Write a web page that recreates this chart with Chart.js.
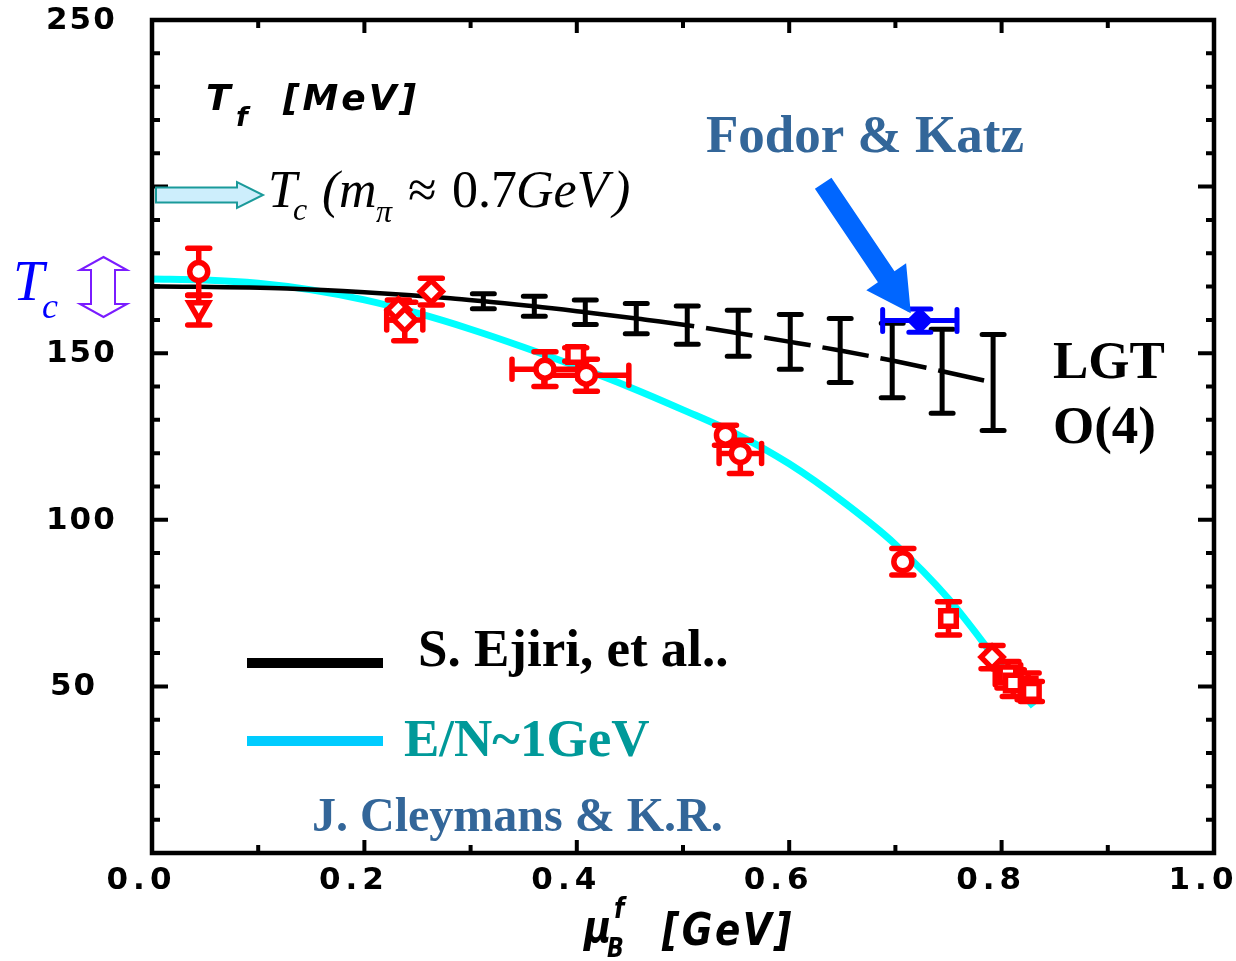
<!DOCTYPE html>
<html><head><meta charset="utf-8">
<script src="https://cdn.jsdelivr.net/npm/chart.js@4.4.1/dist/chart.umd.min.js"></script>
<style>html,body{margin:0;padding:0;background:#fff;overflow:hidden}#wrap{width:1236px;height:961px}</style>
</head><body><div id="wrap"><canvas id="c" width="1236" height="961"></canvas></div>
<script>
// ---------- data ----------
const xTickValues = [0, 0.2, 0.4, 0.6, 0.8, 1.0];
const xTickLabels = ['0.0', '0.2', '0.4', '0.6', '0.8', '1.0'];
const yTickValues = [50, 100, 150, 250];
const yTickLabels = ['50', '100', '150', '250'];

// Cleymans-Redlich E/N ~ 1 GeV freeze-out curve
const cleymansMu = [0, 0.05, 0.1, 0.15, 0.2, 0.25, 0.3, 0.35, 0.4, 0.45, 0.5, 0.55, 0.6, 0.65, 0.7, 0.75, 0.8, 0.83];
const cleymansT  = [172.3, 172.0, 171.0, 169.0, 166.0, 162.0, 157.2, 151.8, 146.0, 139.8, 133.0, 125.8, 116.8, 105.6, 92.6, 76.3, 56.0, 44.0];

// LGT (S. Ejiri et al.) curve start and points with error bars
const lgtCurveMu = [0, 0.127, 0.2, 0.281];
const lgtCurveT  = [170.1, 169.4, 168.3, 166.5];
const lgtMu  = [0.312, 0.360, 0.408, 0.456, 0.504, 0.552, 0.601, 0.648, 0.697, 0.744, 0.792];
const lgtT   = [165.6, 164.1, 162.3, 160.4, 158.4, 156.0, 153.4, 150.8, 147.8, 144.6, 141.2];
const lgtErr = [2.25, 3.0, 3.65, 4.55, 5.75, 6.9, 8.25, 9.6, 11.2, 12.6, 14.4];

// freeze-out data points
const redMu    = [0.044, 0.044, 0.232, 0.238, 0.263, 0.370, 0.399, 0.409, 0.540, 0.554, 0.707, 0.750, 0.791, 0.806, 0.811, 0.825, 0.828];
const redT     = [174.5, 163.5, 163.0, 160.0, 168.5, 145.2, 149.6, 143.4, 125.4, 119.9, 87.4, 70.4, 58.8, 53.5, 51.0, 50.0, 48.5];
const redTLo   = [7, 5, 3, 6.3, 4, 5.2, 2, 4.8, 3, 6, 4, 5, 3.5, 4, 4, 4, 3];
const redTHi   = [7, 3.8, 3, 5.3, 4, 5.2, 2, 4.8, 3, 4, 4, 5, 3.5, 4, 4, 4, 3];
const redMuErr = [0, 0, 0, 0.017, 0, 0.031, 0, 0.04, 0, 0.02, 0, 0, 0, 0.012, 0, 0, 0];
const redShape = ['circle', 'triangleDown', 'diamond', 'diamond', 'diamond', 'circle', 'square', 'circle', 'circle', 'circle', 'circle', 'square', 'diamond', 'square', 'square', 'square', 'square'];

// Fodor & Katz critical point
const fodorMu = [0.723];
const fodorT = [159.8];
const fodorMuErr = [0.035];
const fodorTErr = [3.5];

// ---------- helpers ----------
const pts = (xs, ys) => xs.map((v, i) => ({x: v, y: ys[i]}));
const styleMap = {circle: 'circle', triangleDown: 'triangle', diamond: 'rectRot', square: 'rect'};
const radiusMap = {circle: 9, triangleDown: 11, diamond: 11, square: 11};

const SERIF = '"Liberation Serif", "Times New Roman", serif';
const SANS = '"DejaVu Sans", Verdana, sans-serif';

function txt(ctx, s, x, y, font, color, ls, align, sx) {
  ctx.save();
  ctx.font = font; ctx.fillStyle = color || '#000';
  ctx.textBaseline = 'alphabetic';
  if ('letterSpacing' in ctx) ctx.letterSpacing = (ls || 0) + 'px';
  const k = sx || 1;
  let w = (ctx.measureText(s).width - (ls || 0)) * k;
  let xx = x;
  if (align === 'center') xx = x - w / 2;
  ctx.textAlign = 'left';
  ctx.translate(xx, y); ctx.scale(k, 1);
  ctx.fillText(s, 0, 0);
  ctx.restore();
}

const bgPlugin = {
  id: 'bg',
  beforeDraw(chart) {
    const ctx = chart.ctx; ctx.save(); ctx.fillStyle = '#fff';
    ctx.fillRect(0, 0, chart.width, chart.height); ctx.restore();
  }
};

const errorBarPlugin = {
  id: 'errbars',
  beforeDatasetDraw(chart, args) {
    const ds = chart.data.datasets[args.index];
    const eb = ds.errorBars; if (!eb) return;
    const ctx = chart.ctx, xs = chart.scales.x, ys = chart.scales.y;
    ctx.save();
    ctx.strokeStyle = eb.color; ctx.lineWidth = eb.width; ctx.lineCap = 'round';
    ds.data.forEach((p, i) => {
      const px = xs.getPixelForValue(p.x), py = ys.getPixelForValue(p.y);
      const lo = eb.yLo[i] || 0, hi = eb.yHi[i] || 0;
      if (lo || hi) {
        const y1 = ys.getPixelForValue(p.y + hi), y2 = ys.getPixelForValue(p.y - lo);
        ctx.beginPath();
        ctx.moveTo(px, y1); ctx.lineTo(px, y2);
        ctx.moveTo(px - eb.cap / 2, y1); ctx.lineTo(px + eb.cap / 2, y1);
        ctx.moveTo(px - eb.cap / 2, y2); ctx.lineTo(px + eb.cap / 2, y2);
        ctx.stroke();
      }
      const xe = eb.xErr ? eb.xErr[i] : 0;
      if (xe) {
        const x1 = xs.getPixelForValue(p.x - xe), x2 = xs.getPixelForValue(p.x + xe);
        const c = eb.capX || eb.cap;
        ctx.beginPath();
        ctx.moveTo(x1, py); ctx.lineTo(x2, py);
        ctx.moveTo(x1, py - c / 2); ctx.lineTo(x1, py + c / 2);
        ctx.moveTo(x2, py - c / 2); ctx.lineTo(x2, py + c / 2);
        ctx.stroke();
      }
    });
    ctx.restore();
  }
};

const decorPlugin = {
  id: 'decor',
  afterDraw(chart) {
    const ctx = chart.ctx, a = chart.chartArea, xs = chart.scales.x, ys = chart.scales.y;
    ctx.save();
    // frame
    ctx.strokeStyle = '#000'; ctx.lineWidth = 4.5; ctx.lineCap = 'butt';
    ctx.strokeRect(a.left, a.top, a.right - a.left, a.bottom - a.top);
    // inward ticks
    ctx.lineWidth = 4;
    for (let v = 10; v < 250; v += 10) {
      const py = ys.getPixelForValue(v);
      const L = (v % 50 === 0) ? 16 : 8;
      ctx.beginPath();
      ctx.moveTo(a.left, py); ctx.lineTo(a.left + L, py);
      ctx.moveTo(a.right, py); ctx.lineTo(a.right - L, py);
      ctx.stroke();
    }
    for (let k = 1; k < 10; k++) {
      const px = xs.getPixelForValue(k / 10);
      const L = (k % 2 === 0) ? 13 : 8;
      ctx.beginPath();
      ctx.moveTo(px, a.bottom); ctx.lineTo(px, a.bottom - L);
      ctx.moveTo(px, a.top); ctx.lineTo(px, a.top + L);
      ctx.stroke();
    }
    // tick labels
    xTickValues.forEach((v, i) => {
      txt(ctx, xTickLabels[i], xs.getPixelForValue(v) - 13, 889, 'bold 31px ' + SANS, '#000', 5, 'center');
    });
    yTickValues.forEach((v, i) => {
      ctx.save(); ctx.font = 'bold 31px ' + SANS; ctx.fillStyle = '#000';
      if ('letterSpacing' in ctx) ctx.letterSpacing = '2px';
      ctx.textBaseline = 'middle'; ctx.textAlign = 'left';
      ctx.fillText(yTickLabels[i], yTickLabels[i].length === 2 ? 50 : 46, ys.getPixelForValue(v) + 1);
      ctx.restore();
    });
    // axis titles
    txt(ctx, 'T', 206, 110, 'italic bold 36px ' + SANS, '#000', 0);
    txt(ctx, 'f', 236, 126, 'italic bold 27px ' + SANS, '#000', 0);
    txt(ctx, '[MeV]', 283, 110, 'italic bold 36px ' + SANS, '#000', 3);
    txt(ctx, 'μ', 584, 942, 'italic bold 44px ' + SANS, '#000', 0, null, 0.85);
    txt(ctx, 'f', 614, 918, 'italic bold 28px ' + SANS, '#000', 0, null, 0.85);
    txt(ctx, 'B', 607, 957, 'italic bold 26px ' + SANS, '#000', 0, null, 0.85);
    txt(ctx, '[GeV]', 662, 945, 'italic bold 44px ' + SANS, '#000', 3, null, 0.85);

    // left "T_c" and violet double arrow
    txt(ctx, 'T', 13, 300, 'italic 56px ' + SERIF, '#0000ff', 0);
    txt(ctx, 'c', 42, 318, 'italic 36px ' + SERIF, '#0000ff', 0);
    ctx.beginPath();
    ctx.moveTo(103.5, 257); ctx.lineTo(127, 270); ctx.lineTo(115, 270); ctx.lineTo(115, 304);
    ctx.lineTo(127, 304); ctx.lineTo(103.5, 317); ctx.lineTo(80, 304); ctx.lineTo(91, 304);
    ctx.lineTo(91, 270); ctx.lineTo(80, 270); ctx.closePath();
    ctx.strokeStyle = '#7a1cff'; ctx.lineWidth = 2; ctx.lineJoin = 'miter'; ctx.stroke();

    // light-blue arrow + T_c (m_pi ~ 0.7GeV)
    ctx.beginPath();
    ctx.moveTo(156, 187.5); ctx.lineTo(237, 187.5); ctx.lineTo(237, 182); ctx.lineTo(263, 195);
    ctx.lineTo(237, 208); ctx.lineTo(237, 202.5); ctx.lineTo(156, 202.5); ctx.closePath();
    ctx.fillStyle = '#cdeefc'; ctx.fill();
    ctx.strokeStyle = '#1a9a9a'; ctx.lineWidth = 2; ctx.stroke();
    txt(ctx, 'T', 268, 207, 'italic 52px ' + SERIF, '#000', 0);
    txt(ctx, 'c', 293, 220, 'italic 32px ' + SERIF, '#000', 0);
    txt(ctx, '(', 322, 207, 'italic 52px ' + SERIF, '#000', 0);
    txt(ctx, 'm', 339, 207, 'italic 52px ' + SERIF, '#000', 0);
    txt(ctx, 'π', 376, 222, 'italic 32px ' + SERIF, '#000', 0);
    txt(ctx, '≈', 408, 207, '52px ' + SERIF, '#000', 0);
    txt(ctx, '0.7', 452, 207, '52px ' + SERIF, '#000', 0);
    txt(ctx, 'GeV', 516, 207, 'italic 52px ' + SERIF, '#000', 0);
    txt(ctx, ')', 613, 207, 'italic 52px ' + SERIF, '#000', 0);

    // Fodor & Katz label and big blue arrow (positioned in data coordinates)
    txt(ctx, 'Fodor & Katz', 706, 152, 'bold 53px ' + SERIF, '#336699', 0);
    const tx = xs.getPixelForValue(0.632), ty = ys.getPixelForValue(201);
    const hx = xs.getPixelForValue(0.7145), hy = ys.getPixelForValue(162);
    const dx = hx - tx, dy = hy - ty, len = Math.hypot(dx, dy);
    const ux = dx / len, uy = dy / len, nx = -uy, ny = ux;
    const sw = 10, hw = 24, hl = 44;
    const bx = hx - ux * hl, by = hy - uy * hl;
    ctx.beginPath();
    ctx.moveTo(tx + nx * sw, ty + ny * sw);
    ctx.lineTo(bx + nx * sw, by + ny * sw);
    ctx.lineTo(bx + nx * hw, by + ny * hw);
    ctx.lineTo(hx, hy);
    ctx.lineTo(bx - nx * hw, by - ny * hw);
    ctx.lineTo(bx - nx * sw, by - ny * sw);
    ctx.lineTo(tx - nx * sw, ty - ny * sw);
    ctx.closePath();
    ctx.fillStyle = '#0066ff'; ctx.fill();

    // LGT O(4)
    txt(ctx, 'LGT', 1053, 378, 'bold 53px ' + SERIF, '#000', 0);
    txt(ctx, 'O(4)', 1053, 443, 'bold 53px ' + SERIF, '#000', 0);

    // legend
    ctx.lineCap = 'butt';
    ctx.lineWidth = 10; ctx.strokeStyle = '#000';
    ctx.beginPath(); ctx.moveTo(247, 663); ctx.lineTo(383, 663); ctx.stroke();
    ctx.strokeStyle = '#00ccff';
    ctx.beginPath(); ctx.moveTo(247, 741); ctx.lineTo(383, 741); ctx.stroke();
    txt(ctx, 'S. Ejiri, et al..', 418, 666, 'bold 53px ' + SERIF, '#000', 0);
    txt(ctx, 'E/N~1GeV', 404, 756, 'bold 53px ' + SERIF, '#009999', 0);
    txt(ctx, 'J. Cleymans & K.R.', 312, 831, 'bold 48px ' + SERIF, '#336699', 0);
    ctx.restore();
  }
};

new Chart(document.getElementById('c'), {
  type: 'scatter',
  data: {
    datasets: [
      {
        label: 'Fodor & Katz',
        data: pts(fodorMu, fodorT),
        pointStyle: 'rectRot', pointRadius: 12, pointBackgroundColor: '#0000ff',
        pointBorderColor: '#0000ff', pointBorderWidth: 2, showLine: false, order: 1,
        errorBars: {color: '#0000ff', width: 5, cap: 22, capX: 22, yLo: fodorTErr, yHi: fodorTErr, xErr: fodorMuErr}
      },
      {
        label: 'freeze-out data',
        data: pts(redMu, redT),
        pointStyle: redShape.map(s => styleMap[s]),
        pointRotation: redShape.map(s => s === 'triangleDown' ? 180 : 0),
        pointRadius: redShape.map(s => radiusMap[s]),
        pointBackgroundColor: '#ffffff', pointBorderColor: '#ff0000', pointBorderWidth: 5.5,
        showLine: false, order: 2,
        errorBars: {color: '#ff0000', width: 5.5, cap: 22, capX: 20, yLo: redTLo, yHi: redTHi, xErr: redMuErr}
      },
      {
        label: 'LGT error bars',
        data: pts(lgtMu, lgtT),
        pointRadius: 0, showLine: false, order: 3,
        errorBars: {color: '#000000', width: 5, cap: 22, yLo: lgtErr, yHi: lgtErr}
      },
      {
        label: 'S. Ejiri, et al.',
        data: pts(lgtCurveMu.concat(lgtMu), lgtCurveT.concat(lgtT)),
        showLine: true, pointRadius: 0, borderColor: '#000000', borderWidth: 4.5,
        cubicInterpolationMode: 'monotone', order: 4,
        segment: {
          borderDash: c => c.p0.parsed.x >= 0.5 ? [47, 12] : undefined,
          borderDashOffset: c => c.p0.parsed.x >= 0.5 ? 40 : 0
        }
      },
      {
        label: 'E/N~1GeV',
        data: pts(cleymansMu, cleymansT),
        showLine: true, pointRadius: 0, borderColor: '#00ffff', borderWidth: 7,
        cubicInterpolationMode: 'monotone', order: 5
      }
    ]
  },
  options: {
    responsive: false, animation: false, devicePixelRatio: 1, events: [],
    layout: {padding: {left: 152, right: 22, top: 20, bottom: 108}},
    scales: {
      x: {type: 'linear', min: 0, max: 1, display: false},
      y: {type: 'linear', min: 0, max: 250, display: false}
    },
    plugins: {legend: {display: false}, tooltip: {enabled: false}}
  },
  plugins: [bgPlugin, errorBarPlugin, decorPlugin]
});
</script>
</body></html>
